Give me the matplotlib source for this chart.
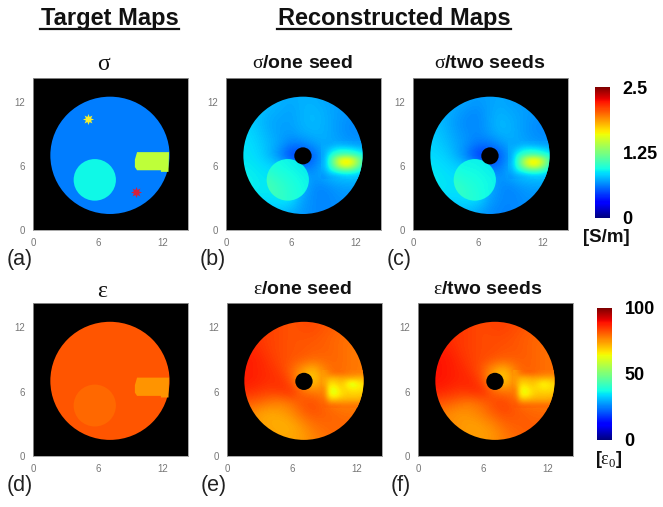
import matplotlib
matplotlib.use("Agg")
import matplotlib.pyplot as plt
from matplotlib.cm import ScalarMappable
from matplotlib.colors import Normalize
from matplotlib.lines import Line2D
from matplotlib.patches import Circle, Polygon

plt.rcParams['font.family'] = ['Liberation Sans', 'DejaVu Sans']
plt.rcParams['mathtext.fontset'] = 'custom'
plt.rcParams['mathtext.rm'] = 'Liberation Serif'
plt.rcParams['mathtext.bf'] = 'Liberation Sans:bold'

# valores: fundo em grade de 1 unidade (linhas y=13..1, colunas x=1..13)
sigma_one = [
    [.79, .79, .79, .77, .75, .73, .75, .75, .73, .71, .69, .69, .69],
    [.79, .79, .79, .77, .75, .73, .75, .75, .73, .71, .69, .69, .69],
    [.81, .81, .79, .75, .73, .71, .75, .77, .75, .71, .69, .67, .67],
    [.83, .83, .79, .73, .71, .71, .75, .77, .75, .71, .67, .65, .65],
    [.85, .85, .81, .75, .71, .69, .73, .75, .75, .71, .67, .65, .65],
    [.87, .87, .83, .77, .71, .62, .62, .68, .73, .73, .71, .69, .69],
    [.87, .87, .85, .77, .64, .46, .44, .54, .71, .76, .78, .78, .76],
    [.89, .89, .87, .85, .83, .76, .58, .62, .74, .82, .86, .86, .84],
    [.91, .91, .89, .87, .87, .87, .80, .68, .72, .78, .80, .80, .78],
    [.91, .91, .89, .89, .89, .89, .78, .66, .64, .68, .70, .70, .70],
    [.89, .89, .87, .87, .89, .89, .72, .66, .64, .66, .68, .68, .68],
    [.83, .83, .81, .81, .81, .77, .70, .66, .64, .66, .66, .66, .66],
    [.79, .79, .79, .77, .75, .73, .68, .66, .64, .64, .64, .64, .64],
]
sigma_two = [
    [.77, .77, .75, .73, .71, .69, .71, .73, .71, .69, .69, .69, .69],
    [.77, .77, .75, .73, .71, .69, .71, .73, .71, .69, .69, .69, .69],
    [.77, .77, .75, .71, .67, .65, .71, .75, .73, .71, .69, .67, .67],
    [.79, .79, .75, .69, .65, .65, .71, .77, .75, .71, .67, .65, .65],
    [.81, .81, .77, .71, .67, .65, .69, .75, .75, .71, .67, .65, .65],
    [.83, .83, .79, .73, .67, .60, .60, .66, .73, .73, .71, .69, .69],
    [.85, .85, .83, .75, .62, .44, .42, .52, .71, .76, .78, .78, .76],
    [.87, .87, .85, .83, .81, .74, .56, .60, .74, .82, .86, .86, .84],
    [.89, .89, .87, .85, .85, .85, .78, .66, .72, .78, .80, .80, .78],
    [.89, .89, .87, .87, .87, .87, .76, .66, .64, .68, .70, .70, .70],
    [.87, .87, .85, .85, .87, .87, .72, .66, .64, .66, .68, .68, .68],
    [.81, .81, .79, .79, .79, .75, .68, .64, .64, .66, .66, .66, .66],
    [.77, .77, .77, .75, .73, .71, .66, .64, .64, .64, .64, .64, .64],
]
eps_one = [
    [85, 85, 85, 84, 83, 82, 83, 83, 82, 81, 80, 80, 80],
    [85, 85, 85, 84, 83, 82, 83, 83, 82, 81, 80, 80, 80],
    [86, 86, 85, 84, 83, 82, 82, 82, 81, 80, 79, 79, 79],
    [87, 87, 86, 84, 83, 82, 82, 81, 81, 80, 79, 78, 78],
    [88, 88, 87, 85, 83, 82, 81, 80, 80, 80, 79, 78, 78],
    [88, 88, 87, 86, 84, 80, 74, 70, 77, 80, 79, 78, 78],
    [88, 88, 87, 86, 86, 82, 72, 68, 76, 79, 78, 78, 78],
    [86, 86, 85, 84, 85, 86, 80, 78, 77, 76, 76, 76, 76],
    [82, 81, 80, 78, 77, 79, 82, 83, 80, 77, 77, 77, 77],
    [79, 77, 74, 73, 74, 76, 80, 82, 81, 80, 79, 79, 79],
    [77, 77, 74, 73, 72, 73, 76, 79, 80, 80, 80, 80, 80],
    [75, 75, 75, 74, 73, 73, 74, 77, 79, 80, 80, 80, 80],
    [75, 75, 75, 74, 74, 74, 75, 77, 78, 79, 79, 79, 79],
]
eps_two = [
    [86, 86, 86, 85, 84, 83, 84, 84, 83, 82, 81, 81, 81],
    [86, 86, 86, 85, 84, 83, 84, 84, 83, 82, 81, 81, 81],
    [87, 87, 86, 85, 84, 83, 83, 83, 82, 81, 80, 80, 80],
    [88, 88, 87, 85, 84, 83, 83, 82, 82, 81, 80, 79, 79],
    [89, 89, 88, 86, 84, 83, 82, 81, 81, 81, 80, 79, 79],
    [89, 89, 88, 87, 85, 81, 74, 70, 78, 81, 80, 79, 79],
    [89, 89, 88, 87, 87, 83, 72, 68, 77, 80, 79, 79, 79],
    [87, 87, 86, 85, 86, 87, 81, 79, 78, 77, 77, 77, 77],
    [83, 82, 81, 79, 78, 80, 83, 84, 81, 78, 78, 78, 78],
    [80, 78, 76, 75, 76, 78, 81, 83, 82, 81, 80, 80, 80],
    [78, 78, 76, 75, 74, 75, 77, 80, 81, 81, 81, 81, 81],
    [76, 76, 76, 75, 74, 74, 75, 78, 80, 81, 81, 81, 81],
    [76, 76, 76, 75, 75, 75, 76, 78, 79, 80, 80, 80, 80],
]

# inclusao quente de sigma (y=8..5 de 0.5 em 0.5, x=9..13 de 0.5 em 0.5)
hot_one = [
    [.73, .72, .73, .72, .71, .70, .69, .69, .69],
    [.73, .78, .86, .90, .90, .88, .84, .80, .76],
    [.71, .90, 1.02, 1.08, 1.10, 1.08, 1.02, .96, .90],
    [.72, .98, 1.30, 1.60, 1.72, 1.65, 1.40, 1.15, 1.00],
    [.74, .96, 1.22, 1.48, 1.60, 1.52, 1.30, 1.08, .95],
    [.72, .86, .96, 1.04, 1.08, 1.06, .98, .90, .84],
    [.68, .72, .74, .76, .78, .78, .78, .76, .70],
]
hot_two = [
    [.73, .72, .73, .72, .71, .70, .69, .69, .69],
    [.73, .78, .86, .90, .90, .88, .84, .80, .76],
    [.71, .90, 1.00, 1.06, 1.08, 1.06, 1.00, .94, .90],
    [.72, .96, 1.26, 1.56, 1.70, 1.66, 1.42, 1.15, 1.00],
    [.74, .94, 1.20, 1.46, 1.60, 1.54, 1.32, 1.08, .95],
    [.72, .86, .94, 1.02, 1.06, 1.06, .98, .90, .84],
    [.68, .72, .74, .76, .78, .78, .78, .76, .70],
]
# circulo grande de sigma (y=6.7..2.7, x=3.7..7.7)
blob_one = [
    [.95, .93, .91, .89, .87],
    [.99, .95, .93, .91, .89],
    [1.07, 1.01, .97, .93, .91],
    [1.09, 1.05, .99, .95, .91],
    [1.03, 1.03, .99, .95, .91],
]
blob_two = [
    [.93, .91, .91, .89, .87],
    [.95, .93, .93, .91, .89],
    [1.01, .97, .95, .93, .91],
    [1.05, 1.01, .97, .93, .91],
    [1.01, .99, .97, .93, .91],
]
# inclusao de epsilon (y=7.75..4.75, x=9..13, de 0.5 em 0.5)
incl_one = [
    [75, 79, 80, 80, 79, 78, 78, 78, 78],
    [74, 72, 72, 73, 73, 73, 72, 72, 72],
    [74, 67, 68, 70, 66, 60, 64, 67, 67],
    [77, 63, 63, 68, 68, 66, 66, 67, 67],
    [78, 63, 63, 67, 69, 69, 69, 70, 70],
    [80, 71, 71, 72, 72, 72, 72, 73, 73],
    [81, 80, 80, 79, 79, 79, 79, 79, 79],
]
incl_two = [
    [75, 80, 81, 81, 80, 79, 79, 79, 79],
    [75, 72, 72, 73, 73, 73, 72, 73, 73],
    [75, 68, 69, 70, 68, 64, 66, 68, 68],
    [78, 64, 64, 68, 68, 67, 67, 68, 68],
    [79, 64, 64, 68, 70, 70, 70, 71, 71],
    [81, 72, 72, 73, 73, 73, 73, 74, 74],
    [82, 81, 81, 80, 80, 80, 80, 80, 80],
]

# mapas alvo: fundo, circulo, retangulo
sigma_target = [0.62, 0.92, 1.45]
eps_target = [82, 80, 75]
sigma_ticks = [0, 1.25, 2.5]
eps_ticks = [0, 50, 100]
axis_ticks = [0, 6, 12]
rect_x = [9.4, 9.6, 12.55, 12.5, 11.8, 11.8, 9.6, 9.4]
rect_y = [6.6, 7.3, 7.3, 5.45, 5.45, 5.6, 5.6, 5.9]

W, H = 663, 507
fig = plt.figure(figsize=(W / 100, H / 100), dpi=100)


def px_axes(l, t, r, b):
    return fig.add_axes([l / W, 1 - b / H, (r - l) / W, (b - t) / H])


def px_text(x, y, s, **kw):
    kw.setdefault('ha', 'center')
    kw.setdefault('va', 'center')
    fig.text(x / W, 1 - y / H, s, **kw)


def base_ax(pos):
    ax = px_axes(*pos)
    ax.set_facecolor('black')
    ax.set_xticks(axis_ticks)
    ax.set_yticks(axis_ticks)
    ax.tick_params(length=0, labelsize=7, labelcolor='#777777', pad=6)
    for s in ax.spines.values():
        s.set_color('#999999')
        s.set_linewidth(0.6)
    return ax


def limits(ax):
    ax.set_xlim(0, 14.3)
    ax.set_ylim(0, 14.25)


def target(pos, vals, vmax):
    ax = base_ax(pos)
    cmap = plt.get_cmap('jet')
    ax.add_patch(Circle((7.1, 7.0), 5.5, fc=cmap(vals[0] / vmax), ec='none'))
    ax.add_patch(Circle((5.7, 4.7), 1.95, fc=cmap(vals[1] / vmax), ec='none'))
    ax.add_patch(Polygon(list(zip(rect_x, rect_y)), fc=cmap(vals[2] / vmax), ec='none'))
    limits(ax)
    return ax


def layer(ax, grid, ext, vmax, clip):
    im = ax.imshow(grid, extent=ext, cmap='jet', vmin=0, vmax=vmax,
                   interpolation='bicubic', aspect='auto')
    clip.set_transform(ax.transData)
    im.set_clip_path(clip)


def recon(pos, grid, vmax):
    ax = base_ax(pos)
    layer(ax, grid, (0.5, 13.5, 0.5, 13.5), vmax, Circle((7.1, 7.0), 5.5))
    return ax


def sigma_map(pos, grid, blob, hot):
    ax = recon(pos, grid, 2.5)
    layer(ax, blob, (3.2, 8.2, 2.2, 7.2), 2.5, Circle((5.7, 4.7), 1.95))
    layer(ax, hot, (8.75, 13.25, 4.75, 8.25), 2.5, Circle((7.1, 7.0), 5.5))
    ax.add_patch(Circle((7.1, 6.95), 0.8, fc='black', ec='none'))
    limits(ax)


def eps_map(pos, grid, incl):
    ax = recon(pos, grid, 100)
    layer(ax, incl, (8.75, 13.25, 4.5, 8.0), 100, Circle((7.1, 7.0), 5.5))
    ax.add_patch(Circle((7.1, 6.95), 0.8, fc='black', ec='none'))
    limits(ax)


def cbar(pos, vmax, ticks):
    cax = px_axes(*pos)
    cb = fig.colorbar(ScalarMappable(Normalize(0, vmax), 'jet'), cax=cax)
    cb.outline.set_visible(False)
    cb.set_ticks(ticks)
    cb.set_ticklabels([str(t) for t in ticks])
    cax.tick_params(length=0, labelsize=13, pad=9)
    for t in cax.get_yticklabels():
        t.set_fontweight('bold')


ax_a = target((33, 78, 188, 230), sigma_target, 2.5)
ax_a.plot(5.1, 10.45, marker=(8, 1, 0), ms=8, color='#f5f030', mew=0)
ax_a.plot(9.5, 3.6, marker=(8, 1, 0), ms=8, color='#d8203c', mew=0)
sigma_map((226, 78, 381, 230), sigma_one, blob_one, hot_one)
sigma_map((413, 78, 568, 230), sigma_two, blob_two, hot_two)
target((33, 303, 188, 456), eps_target, 100)
eps_map((227, 303, 382, 456), eps_one, incl_one)
eps_map((418, 303, 573, 456), eps_two, incl_two)

cbar((595, 87, 610, 218), 2.5, sigma_ticks)
cbar((597, 308, 612, 440), 100, eps_ticks)

# titulos
bold = dict(fontweight='bold', color='#111111')
px_text(110, 18, 'Target Maps', fontsize=17, **bold)
px_text(394, 18, 'Reconstructed Maps', fontsize=17, **bold)
fig.add_artist(Line2D([40 / W, 179 / W], [1 - 29 / H] * 2, color='#111111', lw=1.6))
fig.add_artist(Line2D([277 / W, 511 / W], [1 - 29 / H] * 2, color='#111111', lw=1.6))

px_text(104, 64, r'$\mathrm{\sigma}$', fontsize=17, color='#111111')
px_text(303, 63, r'$\mathrm{\sigma}$/one seed', fontsize=14, **bold)
px_text(490, 63, r'$\mathrm{\sigma}$/two seeds', fontsize=14, **bold)
px_text(103, 291, r'$\mathrm{\varepsilon}$', fontsize=17, color='#111111')
px_text(302, 290, r'$\mathrm{\varepsilon}$/one seed', fontsize=14, **bold)
px_text(488, 290, r'$\mathrm{\varepsilon}$/two seeds', fontsize=14, **bold)

for x, y, s in [(20, 260, '(a)'), (213, 260, '(b)'), (399, 260, '(c)'),
                (20, 485, '(d)'), (214, 485, '(e)'), (401, 485, '(f)')]:
    px_text(x, y, s, fontsize=15.5, color='#222222')

px_text(606, 237, '[S/m]', fontsize=13.5, **bold)
px_text(609, 459, r'[$\mathrm{\varepsilon}_0$]', fontsize=13, **bold)

fig.savefig('out.png', dpi=100)
